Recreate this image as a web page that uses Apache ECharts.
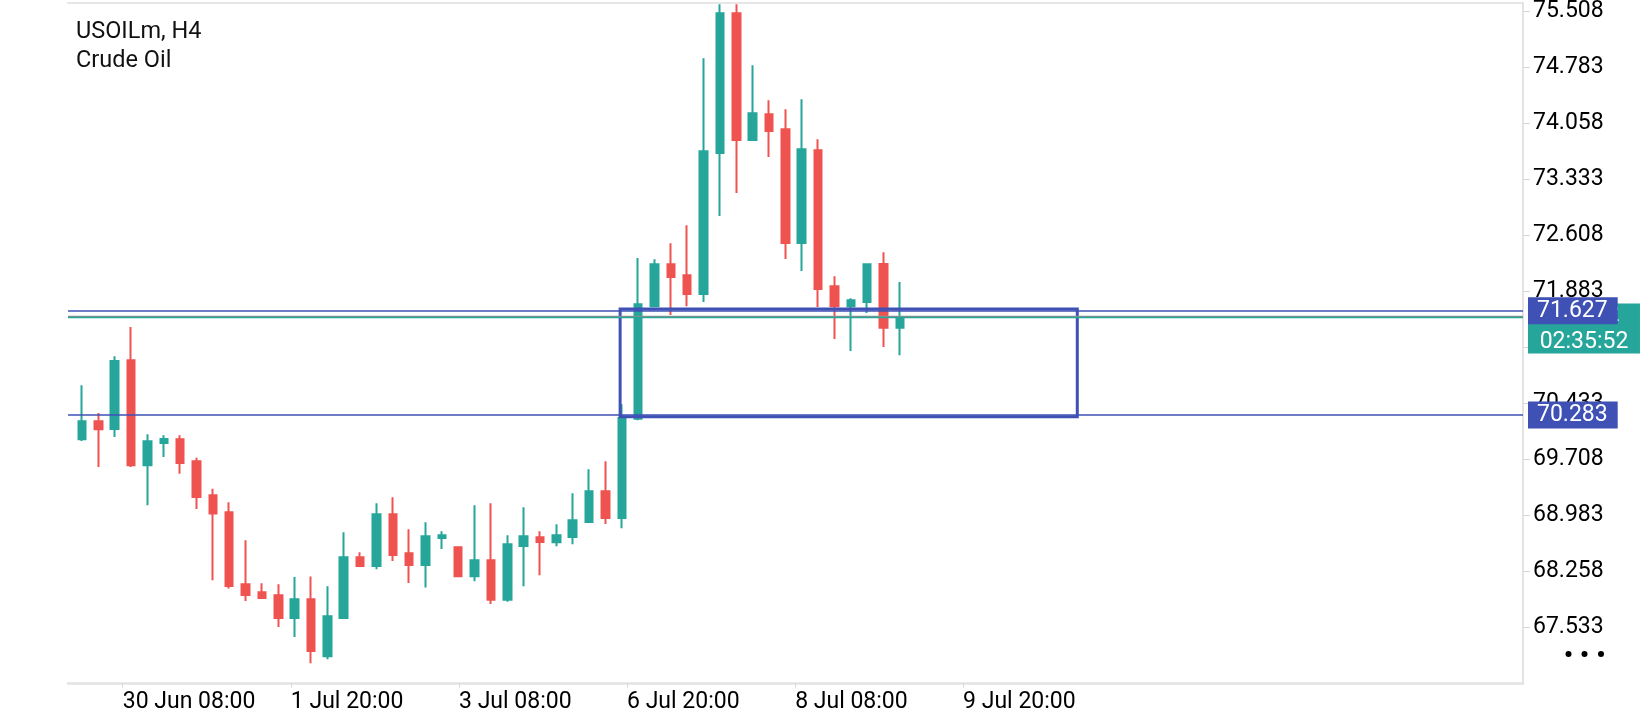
<!DOCTYPE html>
<html>
<head>
<meta charset="utf-8">
<script src="https://cdn.jsdelivr.net/npm/echarts@6/dist/echarts.min.js"></script>
<style>
html,body{margin:0;padding:0;background:#fff;}
#chart{width:1640px;height:720px;}
</style>
</head>
<body>
<div id="chart"></div>
<script>
// ---- data (H4 candles, index 0 = first fully visible bar) ----
const symbolName = 'USOILm, H4';
const symbolDesc = 'Crude Oil';
const opens  = [69.967,70.200,70.100,70.989,69.631,69.919,69.967,69.683,69.243,69.023,68.091,67.988,67.949,67.655,67.898,67.160,67.655,68.441,68.328,68.997,68.492,68.341,68.690,68.570,68.195,68.402,67.892,68.587,68.699,68.635,68.703,68.897,69.295,68.948,70.234,71.688,72.231,72.089,71.847,73.671,75.478,73.839,74.172,73.978,72.507,73.706,71.947,71.688,71.743,72.236,71.411];
const closes = [70.200,70.097,70.980,69.631,69.941,69.971,69.661,69.221,69.006,68.069,67.953,67.914,67.655,67.898,67.230,67.677,68.441,68.328,68.997,68.470,68.341,68.712,68.725,68.195,68.402,67.892,68.609,68.712,68.639,68.725,68.919,69.295,68.949,70.243,71.714,72.231,72.067,71.847,73.693,75.478,73.839,74.185,73.956,72.507,73.719,71.912,71.688,71.765,72.231,71.411,71.542];
const lows   = [69.945,69.609,69.997,69.609,69.113,69.738,69.523,69.066,68.143,68.036,67.875,67.914,67.539,67.410,67.069,67.121,67.648,68.328,68.285,68.393,68.108,68.049,68.548,68.195,68.130,67.838,67.865,68.066,68.208,68.583,68.609,68.884,68.871,68.816,70.213,71.688,71.575,71.688,71.743,72.856,73.154,73.839,73.619,72.300,72.144,71.679,71.265,71.110,71.601,71.161,71.054];
const highs  = [70.666,70.307,71.041,71.420,70.032,70.019,70.019,69.730,69.329,69.152,68.661,68.104,68.091,68.186,68.191,68.066,68.764,68.505,69.139,69.217,68.803,68.894,68.777,68.583,69.113,69.139,68.725,69.088,68.777,68.868,69.269,69.579,69.683,70.420,72.313,72.296,72.503,72.736,74.896,75.595,75.595,74.806,74.353,74.236,74.366,73.848,72.076,71.791,72.244,72.386,72.002];

const priceTicks = [67.533,68.258,68.983,69.708,70.433,71.158,71.883,72.608,73.333,74.058,74.783,75.508];
const timeTickPos = [2.49,12.77,23.05,33.32,43.60,53.87];
const timeLabels = ['30 Jun 08:00','1 Jul 20:00','3 Jul 08:00','6 Jul 20:00','8 Jul 08:00','9 Jul 20:00'];

const levelUpper = 71.627;
const levelLower = 70.283;
const zoneBox = [[32.9, 71.654],[60.85, 70.258]];
const lastPrice = closes[closes.length - 1];
const bidPrice = 71.556;
const countdown = '02:35:52';

const xRange = [-0.856, 88.10];
const yRange = [66.808, 75.618];

// ---- chart ----
const TEAL = '#26a69a', RED = '#ef5350', INDIGO = '#3f51b5';
const FONT = 'Roboto';
const candleData = opens.map((o, k) => [k, o, closes[k], lows[k], highs[k]]);

const chart = echarts.init(document.getElementById('chart'), null, {renderer: 'canvas'});
chart.setOption({
  animation: false,
  backgroundColor: '#ffffff',
  title: {
    text: symbolName + '\n' + symbolDesc,
    left: 76, top: 18, padding: 0,
    textStyle: {fontFamily: FONT, fontSize: 23.5, fontWeight: 'normal', lineHeight: 29, color: '#111'}
  },
  grid: {left: 68, right: 117, top: 2.5, bottom: 36.5, containLabel: false, outerBoundsMode: 'none'},
  xAxis: [{
    type: 'value', min: xRange[0], max: xRange[1], position: 'bottom',
    axisLine: {show: true, onZero: false, lineStyle: {color: '#e3e3e3', width: 2.5}},
    axisTick: {show: true, customValues: timeTickPos, length: 4, lineStyle: {color: '#d6d6d6', width: 1}},
    axisLabel: {
      customValues: timeTickPos, align: 'left', margin: 7,
      fontFamily: FONT, fontSize: 23, color: '#000',
      formatter: function (v) {
        for (let k = 0; k < timeTickPos.length; k++) if (Math.abs(timeTickPos[k] - v) < 1e-6) return timeLabels[k];
        return '';
      }
    },
    splitLine: {show: false}
  }, {
    type: 'value', min: xRange[0], max: xRange[1], position: 'top',
    axisLine: {show: true, onZero: false, lineStyle: {color: '#e6e6e6', width: 2}},
    axisTick: {show: false}, axisLabel: {show: false}, splitLine: {show: false}
  }],
  yAxis: {
    type: 'value', position: 'right', min: yRange[0], max: yRange[1],
    axisLine: {show: true, onZero: false, lineStyle: {color: '#e3e3e3', width: 2}},
    axisTick: {show: true, customValues: priceTicks, length: 7, lineStyle: {color: '#d6d6d6', width: 1}},
    axisLabel: {
      customValues: priceTicks, margin: 10,
      fontFamily: FONT, fontSize: 23, color: '#000',
      formatter: v => Number(v).toFixed(3)
    },
    splitLine: {show: false}
  },
  series: [{
    type: 'candlestick',
    data: candleData,
    barWidth: 8,
    clip: true,
    itemStyle: {color: TEAL, color0: RED, borderColor: TEAL, borderColor0: RED, borderWidth: 2},
    markArea: {
      silent: true, z: 6,
      itemStyle: {color: 'rgba(0,0,0,0)', borderColor: INDIGO, borderWidth: 3},
      label: {show: false},
      data: [[{coord: zoneBox[0]}, {coord: zoneBox[1]}]]
    },
    markPoint: {
      silent: true, z: 4,
      symbol: 'rect', symbolSize: [112, 50], symbolOffset: [61, 11],
      itemStyle: {color: TEAL},
      label: {
        show: true, position: 'inside', color: '#fff',
        fontFamily: FONT, fontSize: 23, lineHeight: 27,
        formatter: lastPrice.toFixed(3) + '\n' + countdown
      },
      data: [{coord: [xRange[1] - 0.001, lastPrice]}]
    },
    markLine: {
      silent: true, z: 7, symbol: 'none',
      data: [
        {yAxis: bidPrice, lineStyle: {color: '#8f8f88', width: 1.4, type: 'solid'}, label: {show: false}},
        {yAxis: lastPrice, lineStyle: {color: TEAL, width: 1.4, type: 'solid'}, label: {show: false}},
        {yAxis: levelUpper, lineStyle: {color: INDIGO, width: 1.6, type: 'solid'},
         label: {show: true, position: 'end', distance: 5, formatter: levelUpper.toFixed(3),
                 backgroundColor: INDIGO, color: '#fff', padding: [2, 10, 2, 9], fontFamily: FONT, fontSize: 23, lineHeight: 23}},
        {yAxis: levelLower, lineStyle: {color: INDIGO, width: 1.6, type: 'solid'},
         label: {show: true, position: 'end', distance: 5, formatter: levelLower.toFixed(3),
                 backgroundColor: INDIGO, color: '#fff', padding: [2, 10, 2, 9], fontFamily: FONT, fontSize: 23, lineHeight: 23}}
      ]
    }
  }],
  graphic: [
    {type: 'circle', shape: {cx: 1568.5, cy: 654, r: 3}, style: {fill: '#000'}},
    {type: 'circle', shape: {cx: 1584.5, cy: 654, r: 3}, style: {fill: '#000'}},
    {type: 'circle', shape: {cx: 1601, cy: 654, r: 3}, style: {fill: '#000'}}
  ]
});
</script>
</body>
</html>
